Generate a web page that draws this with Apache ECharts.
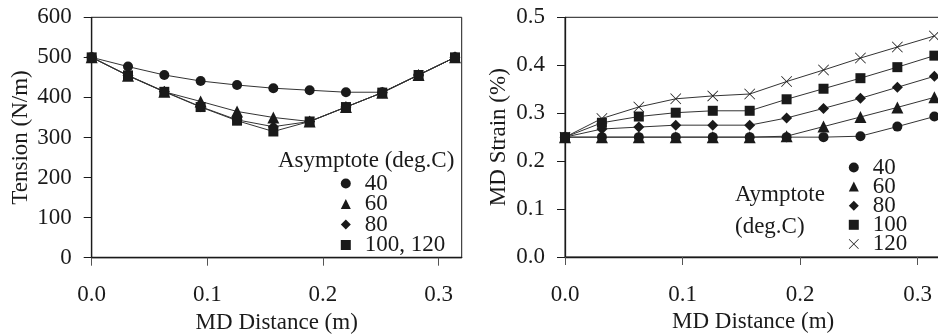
<!DOCTYPE html>
<html>
<head>
<meta charset="utf-8">
<script src="https://cdn.jsdelivr.net/npm/echarts@6/dist/echarts.min.js"></script>
<style>
  html, body { margin: 0; padding: 0; background: #fff; }
  #chart { width: 938px; height: 335px; }
</style>
</head>
<body>
<div id="chart"></div>
<script>
// MD distance positions (m), shared by both panels
const distance = [0, 0.0314, 0.0628, 0.0942, 0.1257, 0.1571, 0.1885, 0.2199, 0.2513, 0.2827, 0.3142];

// left panel: tension (N/m)
const tension40 = [500, 477, 456, 441, 431, 423, 418, 413, 413, 456, 500];
const tension60 = [500, 454, 414, 390, 365, 350, 340, 376, 412, 456, 500];
const tension80 = [500, 455, 415, 377, 344, 327, 340, 376, 412, 456, 500];
const tension100_120 = [500, 455, 414, 376, 342, 315, 340, 376, 412, 456, 500];

// right panel: MD strain (%)
const strain40 = [0.25, 0.25, 0.25, 0.25, 0.25, 0.25, 0.25, 0.25, 0.252, 0.272, 0.293];
const strain60 = [0.25, 0.25, 0.25, 0.25, 0.25, 0.25, 0.252, 0.272, 0.292, 0.312, 0.333];
const strain80 = [0.25, 0.267, 0.271, 0.275, 0.275, 0.275, 0.29, 0.31, 0.331, 0.354, 0.377];
const strain100 = [0.25, 0.28, 0.293, 0.301, 0.305, 0.305, 0.329, 0.351, 0.373, 0.396, 0.42];
const strain120 = [0.25, 0.289, 0.313, 0.33, 0.336, 0.34, 0.366, 0.39, 0.415, 0.438, 0.461];

const xTicks = [0, 0.1, 0.2, 0.3];
const tensionTicks = [0, 100, 200, 300, 400, 500, 600];
const strainTicks = [0, 0.1, 0.2, 0.3, 0.4, 0.5];

const FONT = '"Liberation Serif", "DejaVu Serif", serif';
const INK = '#1a1a1a';
const CROSS = 'path://M0,1L1,0L10,9L19,0L20,1L11,10L20,19L19,20L10,11L1,20L0,19L9,10Z';

const chart = echarts.init(document.getElementById('chart'));

const pairs = (ys) => ys.map((y, i) => [distance[i], y]);

function lineSeries(name, ys, symbol, size, axisIdx) {
  return {
    name: name,
    type: 'line',
    xAxisIndex: axisIdx,
    yAxisIndex: axisIdx,
    data: pairs(ys),
    symbol: symbol,
    symbolSize: size,
    showAllSymbol: true,
    animation: false,
    lineStyle: { color: '#333', width: 1 },
    itemStyle: { color: INK, borderWidth: 0 },
    emphasis: { disabled: true }
  };
}

function xAxis(gridIdx) {
  return {
    type: 'value',
    gridIndex: gridIdx,
    min: 0,
    max: 0.32,
    interval: 0.1,
    name: 'MD Distance (m)',
    nameLocation: 'middle',
    nameGap: 47,
    nameTextStyle: { fontFamily: FONT, fontSize: 23, color: INK },
    axisLine: { show: true, lineStyle: { color: INK, width: 1.3 } },
    axisTick: { show: true, length: 8, customValues: xTicks, lineStyle: { color: '#555', width: 1 } },
    axisLabel: {
      margin: 26, fontFamily: FONT, fontSize: 23, color: INK,
      customValues: xTicks,
      formatter: (v) => v.toFixed(1)
    },
    splitLine: { show: false }
  };
}

function yAxis(gridIdx, max, step, ticks, name, fmt, gap) {
  return {
    type: 'value',
    gridIndex: gridIdx,
    min: 0,
    max: max,
    interval: step,
    name: name,
    nameLocation: 'middle',
    nameGap: gap,
    nameTextStyle: { fontFamily: FONT, fontSize: 23, color: INK },
    axisLine: { show: true, lineStyle: { color: INK, width: 1.3 } },
    axisTick: { show: true, length: 8, customValues: ticks, lineStyle: { color: INK, width: 1 } },
    axisLabel: {
      margin: 20, fontFamily: FONT, fontSize: 23, color: INK,
      customValues: ticks,
      formatter: fmt
    },
    splitLine: { show: false }
  };
}

const legendText = {
  fontFamily: FONT, fontSize: 23, color: INK, padding: [0, 0, 0, 9]
};

chart.setOption({
  backgroundColor: '#fff',
  animation: false,
  textStyle: { fontFamily: FONT },
  grid: [
    { left: 91.7, top: 17.3, width: 370, height: 240.4, show: true,
      borderColor: INK, borderWidth: 1, outerBoundsMode: 'none' },
    { left: 565, top: 17.3, width: 376.2, height: 239.7, show: true,
      borderColor: INK, borderWidth: 1, outerBoundsMode: 'none' }
  ],
  xAxis: [xAxis(0), xAxis(1)],
  yAxis: [
    yAxis(0, 600, 100, tensionTicks, 'Tension (N/m)', (v) => String(v), 59),
    yAxis(1, 0.5, 0.1, strainTicks, 'MD Strain (%)', (v) => v.toFixed(1), 55)
  ],
  legend: [
    {
      orient: 'vertical', left: 340.8, top: 172, padding: 0, itemGap: -2.5,
      itemWidth: 10, itemHeight: 10, selectedMode: false,
      textStyle: legendText,
      data: [
        { name: '40', icon: 'circle' },
        { name: '60', icon: 'triangle' },
        { name: '80', icon: 'diamond' },
        { name: '100, 120', icon: 'rect' }
      ]
    },
    {
      orient: 'vertical', left: 848.8, top: 156, padding: 0, itemGap: -3.9,
      itemWidth: 10, itemHeight: 10, selectedMode: false,
      textStyle: legendText,
      data: [
        { name: '40', icon: 'circle' },
        { name: '60', icon: 'triangle' },
        { name: '80', icon: 'diamond' },
        { name: '100', icon: 'rect' },
        { name: '120', icon: CROSS }
      ]
    }
  ],
  graphic: [
    { type: 'text', left: 278, top: 149,
      style: { text: 'Asymptote (deg.C)', font: '23px "Liberation Serif"', fill: INK } },
    { type: 'text', left: 735, top: 183,
      style: { text: 'Aymptote', font: '23px "Liberation Serif"', fill: INK } },
    { type: 'text', left: 735, top: 215,
      style: { text: '(deg.C)', font: '23px "Liberation Serif"', fill: INK } }
  ],
  // drawn back to front so circles sit on top, as in the figure
  series: [
    lineSeries('100, 120', tension100_120, 'rect', 10, 0),
    lineSeries('80', tension80, 'diamond', 11, 0),
    lineSeries('60', tension60, 'triangle', 12, 0),
    lineSeries('40', tension40, 'circle', 10, 0),
    lineSeries('120', strain120, CROSS, 11, 1),
    lineSeries('100', strain100, 'rect', 10, 1),
    lineSeries('80', strain80, 'diamond', 11, 1),
    lineSeries('60', strain60, 'triangle', 12, 1),
    lineSeries('40', strain40, 'circle', 10, 1)
  ]
});
</script>
</body>
</html>
